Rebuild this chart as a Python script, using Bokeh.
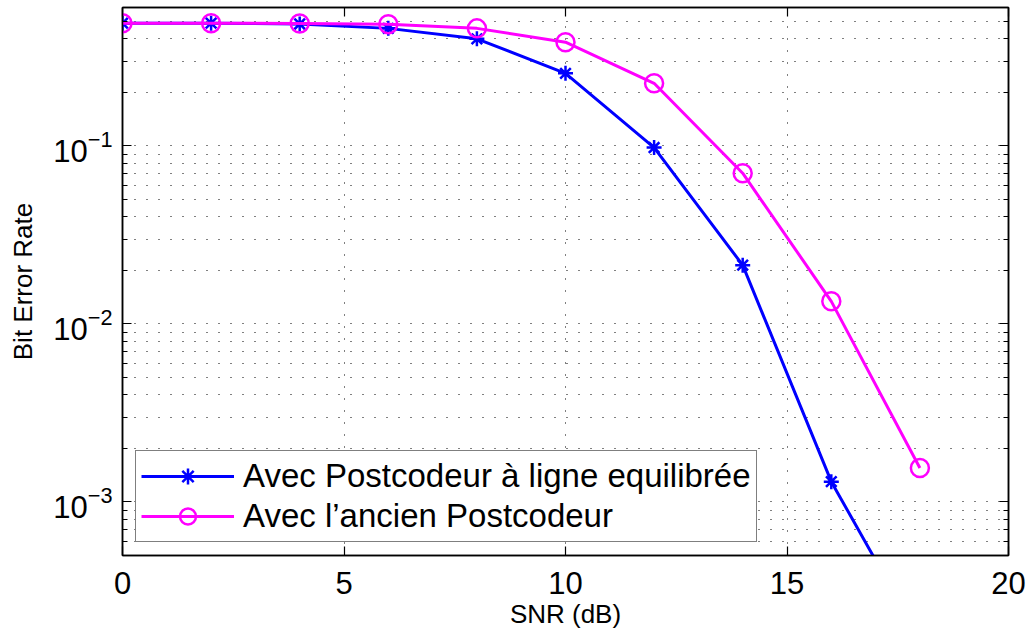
from bokeh.plotting import figure
from bokeh.models import (Range1d, FixedTicker, LinearAxis, LogAxis, Legend, LegendItem)
from bokeh.embed import file_html
from bokeh.resources import INLINE

snr = [0, 2, 4, 6, 8, 10, 12, 14, 16, 18]
ber_new = [0.49, 0.49, 0.485, 0.458, 0.40, 0.256, 0.098, 0.0214, 0.0013, 0.00017]
ber_old = [0.49, 0.49, 0.488, 0.483, 0.458, 0.383, 0.225, 0.0703, 0.0134, 0.00155]
label_new = "Avec Postcodeur à ligne equilibrée"
label_old = "Avec l\u2019ancien Postcodeur"
x_ticks = [0, 5, 10, 15, 20]
y_ticks = [1e-3, 1e-2, 1e-1]
y_minor = [m * 10.0 ** e for e in (-4, -3, -2, -1) for m in range(2, 10)]
y_minor = [v for v in y_minor if 5e-4 <= v <= 0.6 and v not in y_ticks]

FONT = "Liberation Sans"

p = figure(width=1032, height=637, y_axis_type="log",
           x_range=Range1d(0, 20), y_range=Range1d(5e-4, 0.6),
           output_backend="svg", toolbar_location=None,
           min_border_left=122, min_border_right=24,
           min_border_top=7, min_border_bottom=82)
p.background_fill_color = "white"
p.border_fill_color = "white"
p.outline_line_color = "black"
p.outline_line_width = 1.5

xt = FixedTicker(ticks=x_ticks, minor_ticks=[])
yt = FixedTicker(ticks=y_ticks, minor_ticks=y_minor)

for ax in p.xaxis:
    ax.ticker = xt
for ax in p.yaxis:
    ax.ticker = yt

def style_axis(ax, labels=True):
    ax.axis_line_color = "black"
    ax.axis_line_width = 1.5
    ax.major_tick_in = 9
    ax.major_tick_out = 0
    ax.minor_tick_in = 5
    ax.minor_tick_out = 0
    ax.major_tick_line_color = "black"
    ax.minor_tick_line_color = "black"
    ax.major_tick_line_width = 1.2
    ax.minor_tick_line_width = 1.2
    ax.major_label_text_font = FONT
    ax.major_label_text_color = "black"
    if not labels:
        ax.major_label_text_font_size = "1px"
        ax.major_label_text_alpha = 0
        ax.major_label_standoff = 0

xa = p.xaxis[0]
style_axis(xa)
xa.major_label_text_font_size = "31px"
xa.major_label_standoff = 16
xa.axis_label = "SNR (dB)"
xa.axis_label_text_font = FONT
xa.axis_label_text_font_size = "26px"
xa.axis_label_text_font_style = "normal"
xa.axis_label_text_color = "black"
xa.axis_label_standoff = 2

ya = p.yaxis[0]
style_axis(ya)
ya.major_label_text_font_size = "31px"
ya.major_label_standoff = 10
ya.axis_label = "Bit Error Rate"
ya.axis_label_text_font = FONT
ya.axis_label_text_font_size = "26px"
ya.axis_label_text_font_style = "normal"
ya.axis_label_text_color = "black"
ya.axis_label_standoff = 12

top = LinearAxis(ticker=xt)
style_axis(top, labels=False)
p.add_layout(top, "above")
right = LogAxis(ticker=yt)
style_axis(right, labels=False)
p.add_layout(right, "right")

for g in p.xgrid:
    g.ticker = xt
    g.grid_line_color = "black"
    g.grid_line_alpha = 1.0
    g.grid_line_dash = "1 11"
    g.grid_line_width = 1
for g in p.ygrid:
    g.ticker = yt
    g.grid_line_color = "black"
    g.grid_line_alpha = 1.0
    g.grid_line_dash = "1 11"
    g.grid_line_width = 1
    g.minor_grid_line_color = "black"
    g.minor_grid_line_alpha = 1.0
    g.minor_grid_line_dash = "1 11"
    g.minor_grid_line_width = 1

BLUE = "#0000ff"
MAG = "#ff00ff"
l1 = p.line(snr, ber_new, line_color=BLUE, line_width=3)
s1 = p.scatter(snr, ber_new, marker="asterisk", size=15, line_color=BLUE, line_width=2.5)
l2 = p.line(snr, ber_old, line_color=MAG, line_width=3)
s2 = p.scatter(snr, ber_old, marker="circle", size=18, line_color=MAG, line_width=2.5,
               fill_color=None)

legend = Legend(items=[LegendItem(label=label_new, renderers=[l1, s1]),
                       LegendItem(label=label_old, renderers=[l2, s2])],
                location="bottom_left")
legend.margin = 13
legend.padding = 5
legend.spacing = 0
legend.glyph_width = 93
legend.glyph_height = 40
legend.label_height = 40
legend.label_standoff = 9
legend.label_text_font = FONT
legend.label_text_font_size = "33px"
legend.label_text_color = "black"
legend.border_line_color = "black"
legend.border_line_width = 1.5
legend.background_fill_color = "white"
legend.background_fill_alpha = 1.0
p.add_layout(legend, "center")

open("out.html", "w").write(file_html(p, INLINE))
